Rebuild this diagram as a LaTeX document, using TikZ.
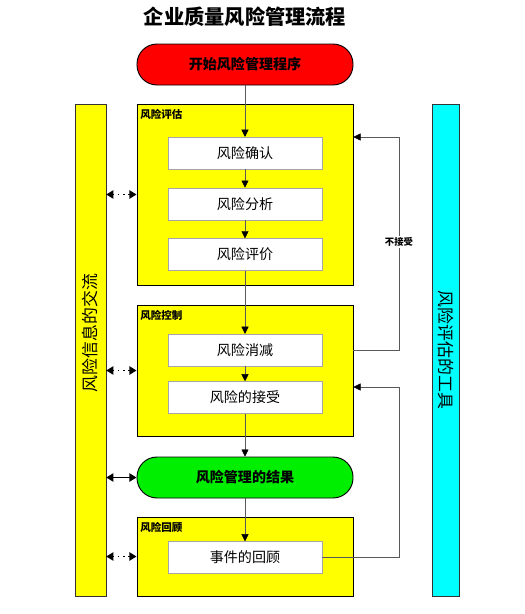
\documentclass[tikz,border=0pt]{standalone}
\usepackage{fontspec}
\setmainfont{Noto Sans CJK SC}
\usetikzlibrary{arrows.meta, positioning}
\definecolor{riskRed}{HTML}{FF0000}
\definecolor{riskYellow}{HTML}{FFFF00}
\definecolor{riskGreen}{HTML}{00EE00}
\definecolor{riskCyan}{HTML}{00FFFF}

\begin{document}
\begin{tikzpicture}[x=0.03cm, y=-0.03cm,
    node distance=0.55cm,
    pill/.style={rectangle, rounded corners=0.6cm, draw=black, thick,
                 minimum width=6.48cm, minimum height=1.23cm,
                 font=\large\bfseries},
    grpbox/.style={rectangle, draw=black, thick, fill=riskYellow,
                 minimum width=6.48cm},
    grplabel/.style={anchor=north west, font=\small\bfseries, inner sep=1pt},
    stepbox/.style={rectangle, draw=gray!70, fill=white,
                 minimum width=4.62cm, minimum height=0.96cm, font=\large},
    sidebar/.style={rectangle, draw=black!80, minimum height=14.76cm},
    flow/.style={draw=gray!70!black, -{Triangle[color=black, length=6pt, width=6pt]}},
    back/.style={draw=gray!70!black, -{Triangle[color=black, length=6pt, width=6pt]}},
    talk/.style={draw=black, line width=1.2pt, dash pattern=on 1.3pt off 3pt,
                 {Triangle[length=6pt, width=7pt]}-{Triangle[length=6pt, width=7pt]}},
    talksolid/.style={draw=black, line width=1pt,
                 {Triangle[length=6pt, width=7pt]}-{Triangle[length=6pt, width=7pt]}},
  ]
    \useasboundingbox (0,0) rectangle (524,614);

    \node[font=\LARGE\bfseries] (title) at (245,17) {企业质量风险管理流程};
    \node[pill, fill=riskRed] (start) at (245,64.5) {开始风险管理程序};

    % side bars
    \node[sidebar, fill=riskYellow, minimum width=0.93cm] (infobar) at (90.5,350) {};
    \node[rotate=90, font=\Large] (infotext) at (90.5,333) {风险信息的交流};
    \node[sidebar, fill=riskCyan, minimum width=0.81cm] (toolbar) at (445.5,350.5) {};
    \node[rotate=-90, font=\Large] (tooltext) at (445.5,350) {风险评估的工具};

    % risk assessment
    \node[grpbox, minimum height=5.43cm] (evalgrp) at (245,194.5) {};
    \node[grplabel] (evallabel) at ([xshift=2pt,yshift=-4pt]evalgrp.north west) {风险评估};
    \node[stepbox] (confirm) at (245,153) {风险确认};
    \node[stepbox, below=of confirm] (analyze) {风险分析};
    \node[stepbox, below=of analyze] (evaluate) {风险评价};

    % risk control
    \node[grpbox, minimum height=3.93cm] (ctrlgrp) at (245,370.5) {};
    \node[grplabel] (ctrllabel) at ([xshift=2pt,yshift=-4pt]ctrlgrp.north west) {风险控制};
    \node[stepbox] (reduce) at (245,350) {风险消减};
    \node[stepbox, below=0.45cm of reduce] (accept) {风险的接受};

    \node[pill, fill=riskGreen] (result) at (245,477.5) {风险管理的结果};

    % risk review
    \node[grpbox, minimum height=2.37cm] (reviewgrp) at (245,556.5) {};
    \node[grplabel] (reviewlabel) at ([xshift=2pt,yshift=-4pt]reviewgrp.north west) {风险回顾};
    \node[stepbox] (review) at (245,557.5) {事件的回顾};

    \draw[flow] (start) -- (confirm);
    \draw[flow] (confirm) -- (analyze);
    \draw[flow] (analyze) -- (evaluate);
    \draw[flow] (evaluate) -- (reduce);
    \draw[flow] (reduce) -- (accept);
    \draw[flow] (accept) -- (result);
    \draw[flow] (result) -- (review);

    % feedback loops
    \coordinate (fbtop) at (399,137);
    \coordinate (fbmid) at (399,387);
    \draw[back] (ctrlgrp.east |- reduce) -| (fbtop) -- (evalgrp.east |- fbtop);
    \node[font=\footnotesize\bfseries, fill=white, inner sep=1pt] (reject) at (399,242) {不接受};
    \draw[back] (review) -| (fbmid) -- (ctrlgrp.east |- fbmid);

    \draw[talk] (infobar.east |- evalgrp.west) -- (evalgrp.west);
    \draw[talk] (infobar.east |- ctrlgrp.west) -- (ctrlgrp.west);
    \draw[talksolid] (infobar.east |- result.west) -- (result.west);
    \draw[talk] (infobar.east |- reviewgrp.west) -- (reviewgrp.west);
  \end{tikzpicture}
\end{document}
